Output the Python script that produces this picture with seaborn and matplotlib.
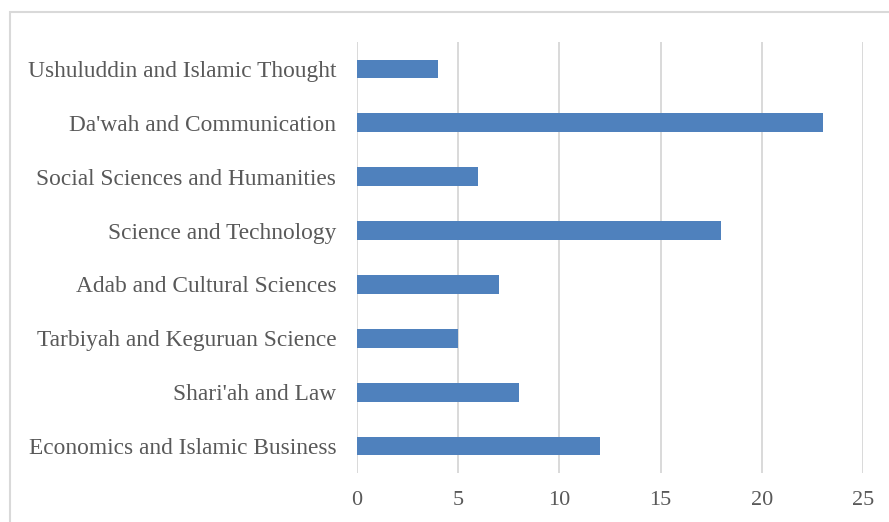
import matplotlib
matplotlib.use("Agg")
import matplotlib.pyplot as plt
import matplotlib.patches as mpatches
import pandas as pd
import seaborn as sns

# categories from top to bottom as displayed
faculties = [
    "Ushuluddin and Islamic Thought",
    "Da'wah and Communication",
    "Social Sciences and Humanities",
    "Science and Technology",
    "Adab and Cultural Sciences",
    "Tarbiyah and Keguruan Science",
    "Shari'ah and Law",
    "Economics and Islamic Business",
]
counts = [4, 23, 6, 18, 7, 5, 8, 12]
x_ticks = [0, 5, 10, 15, 20, 25]

df = pd.DataFrame({"faculty": faculties, "count": counts})

sns.set_style("white")
plt.rcParams["font.family"] = ["Liberation Serif", "DejaVu Serif"]

fig = plt.figure(figsize=(8.89, 5.22), dpi=100)
ax = fig.add_axes([357 / 889, 49 / 522, 506 / 889, 431 / 522])

sns.barplot(data=df, x="count", y="faculty", orient="h", color="#4f81bd",
            saturation=1, width=0.35, linewidth=0, ax=ax)

ax.set_xlim(0, 25)
ax.set_xticks(x_ticks)
ax.grid(axis="x", color="#d9d9d9", linewidth=1.4)
ax.set_axisbelow(True)
for s in ax.spines.values():
    s.set_visible(False)
ax.tick_params(axis="both", length=0, labelcolor="#595959")
ax.tick_params(axis="x", pad=13, labelsize=16)
ax.tick_params(axis="y", pad=15, labelsize=16.8)
ax.set_xlabel("")
ax.set_ylabel("")

# chart-area border (cropped at right and bottom in the original)
border = mpatches.Rectangle((10 / 889, -0.1), 1.2, (522 - 12) / 522 + 0.1,
                            transform=fig.transFigure, fill=False,
                            edgecolor="#d9d9d9", linewidth=1.5)
fig.patches.append(border)

fig.savefig("out.png", dpi=100)
